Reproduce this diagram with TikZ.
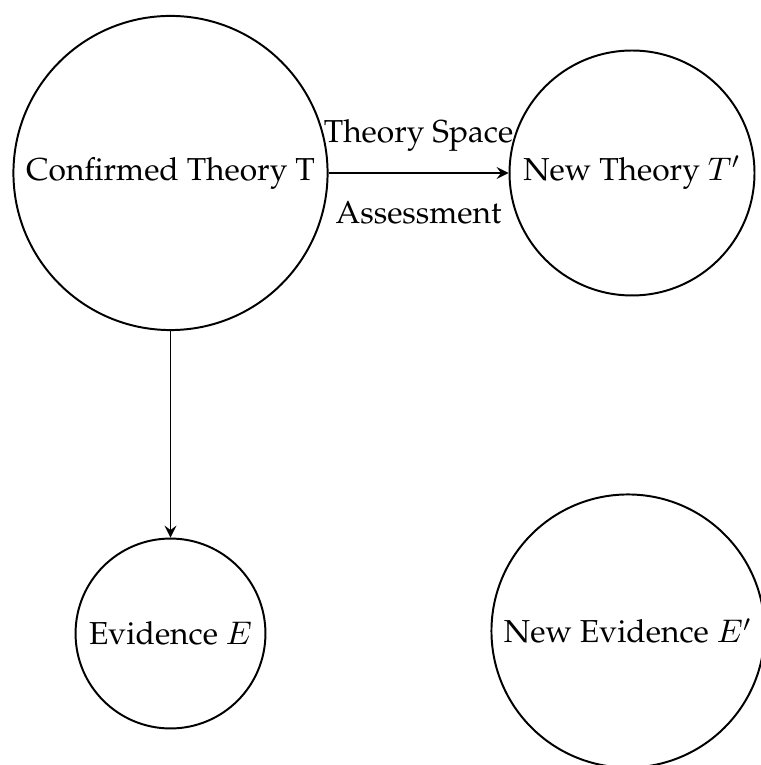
\documentclass[tikz,border=0pt]{standalone}
\usepackage[T1]{fontenc}
\usepackage{palatino}
\usetikzlibrary{positioning}
\tikzset{
	stage/.style={draw, circle},
}
\begin{document}
\begin{tikzpicture}[x=0.3056pt, y=-0.3056pt, line width=0.6pt, >=stealth, font=\fontsize{9.7}{12}\selectfont]
			%%%%% START %%%%%
			
			\useasboundingbox (0, 0) rectangle (760, 765);
			
			\node[stage] (theory) at (170.5, 173) {Confirmed Theory T};
			\node[stage] (newtheory) at (632, 173) {New Theory $T'$};
			
			\node[stage] (evidence) at (170.5, 633.5) {Evidence $E$};
			\node[stage, minimum size=80.5pt] (newevidence) at (628, 631) {New Evidence $E'$};
			
			\draw[->] (theory) -- (newtheory)
				node[midway, above=3pt] (space) {Theory Space}
				node[midway, below=5pt] (assess) {Assessment};
			\draw[->] (theory) -- (evidence);
			
			%%%%% END %%%%%
		\end{tikzpicture}
\end{document}
